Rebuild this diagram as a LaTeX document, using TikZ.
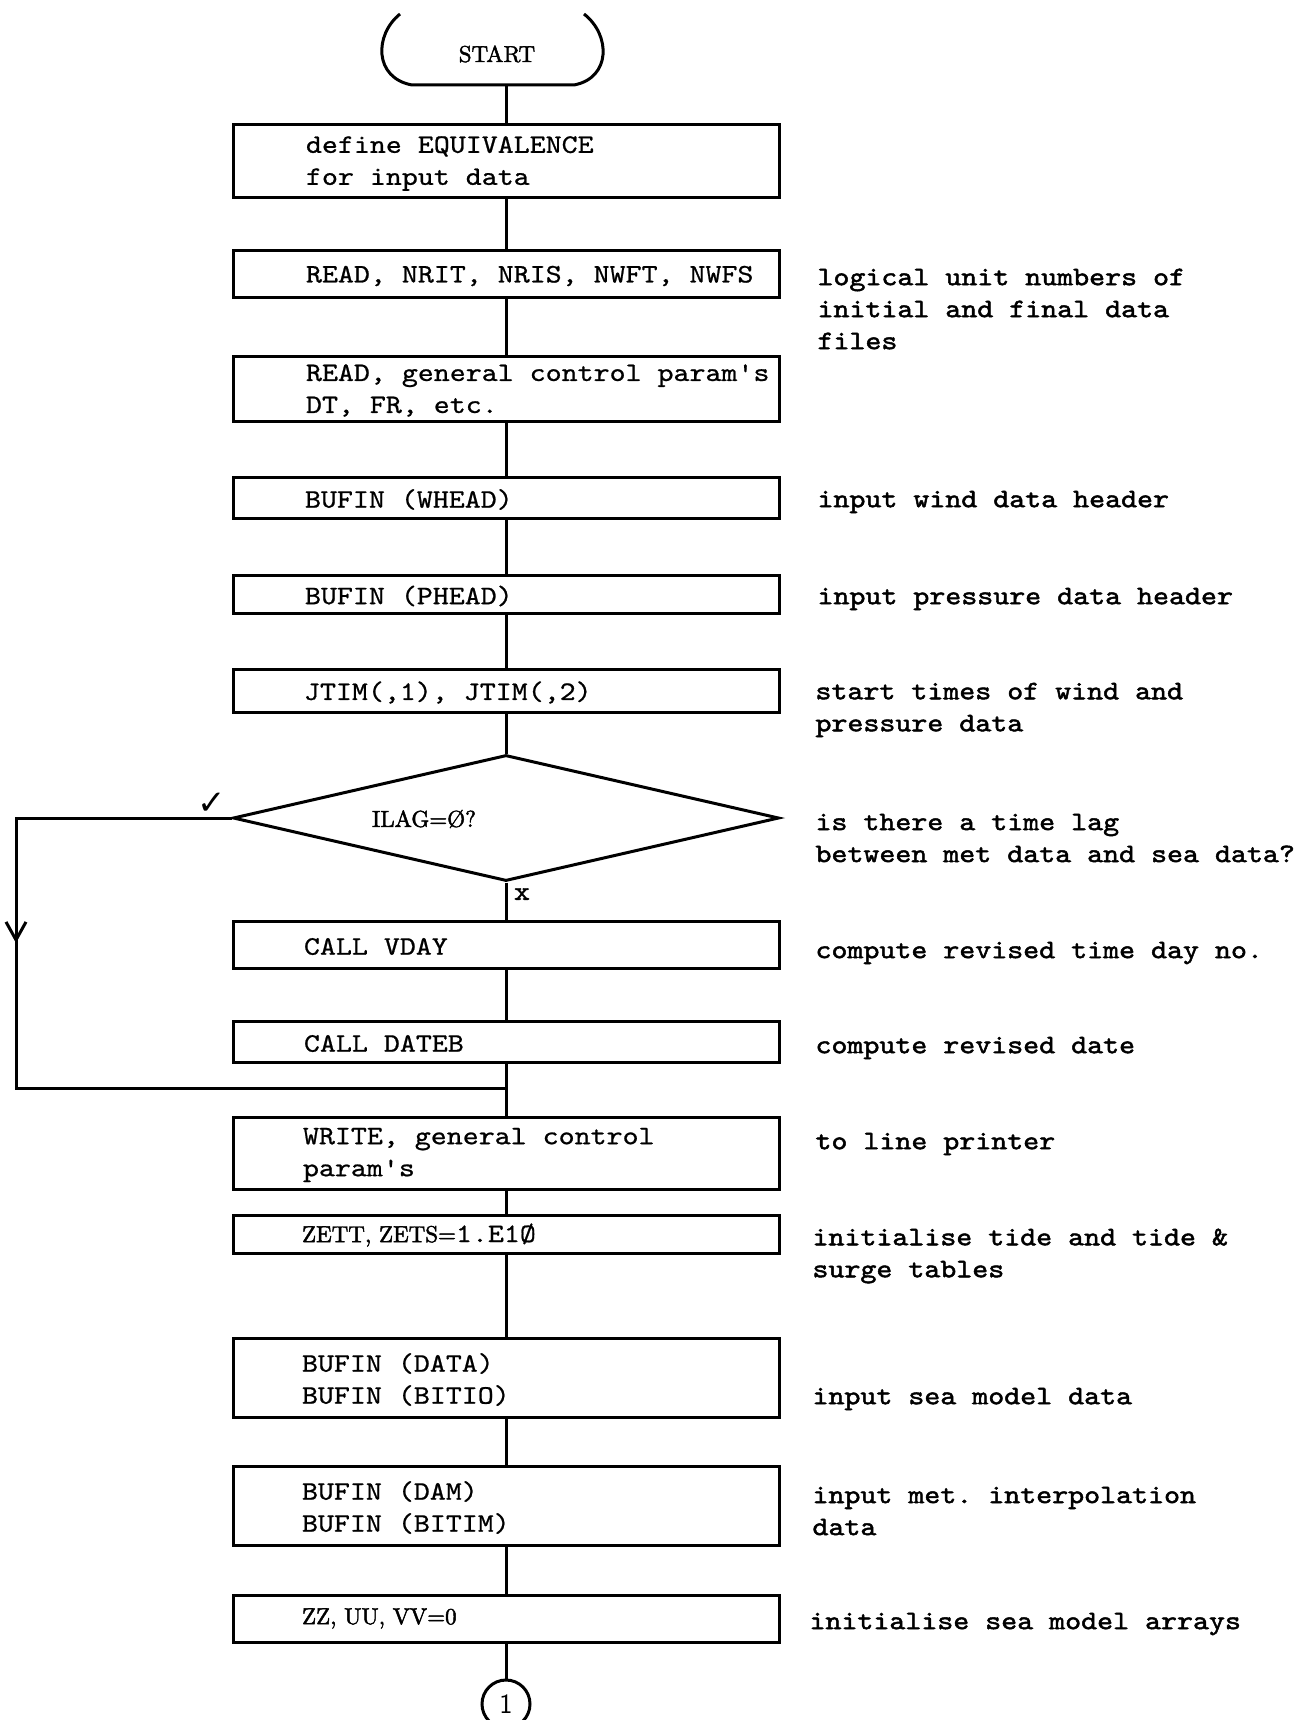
\documentclass[tikz,border=0pt]{standalone}
\usepackage{fontspec}
\newfontfamily\tw[FakeStretch=1.14,FakeBold=0.8]{lmmono10-regular.otf}
\newfontfamily\twb[FakeStretch=1.14,FakeBold=1.8]{lmmono10-regular.otf}
\newfontfamily\romf[FakeBold=2]{lmroman10-regular.otf}
\newfontfamily\chkfont{DejaVu Sans}
\usetikzlibrary{shapes.geometric,arrows.meta}
\frenchspacing
\begin{document}
\begin{tikzpicture}[x=1pt,y=-1pt,line width=3pt,
  box/.style={draw,rectangle,inner sep=0pt,minimum width=546pt},
  btext/.style={anchor=west,inner sep=0pt,align=left,font=\tw\fontsize{26.7}{32}\selectfont\frenchspacing},
  rtext/.style={anchor=west,inner sep=0pt,align=left,font=\twb\fontsize{26.7}{32}\selectfont\frenchspacing},
  rom/.style={inner sep=0pt,font=\romf\fontsize{23}{28}\selectfont}]
\useasboundingbox (0,0) rectangle (1304,1720);

% start terminal
\node[rom] (start) at (497,54) {START};
\draw (400,14) .. controls (374,35) and (374,78) .. (412,85) -- (574,85) .. controls (611,78) and (611,35) .. (584,14);
\coordinate (sb) at (506,85);

% boxes
\node[box,minimum height=73pt] (b1) at (506,161.5) {};
\node[btext] (t1) at ([xshift=73pt,yshift=-2pt]b1.west) {define EQUIVALENCE\\for input data};
\node[box,minimum height=46pt] (b2) at (506,274) {};
\node[btext] (t2) at ([xshift=73pt,yshift=-2pt]b2.west) {READ, NRIT, NRIS, NWFT, NWFS};
\node[box,minimum height=65pt] (b3) at (506,388.5) {};
\node[btext] (t3) at ([xshift=73pt,yshift=-2pt]b3.west) {READ, general control param's\\DT, FR, etc.};
\node[box,minimum height=41pt] (b4) at (506,497.5) {};
\node[btext] (t4) at ([xshift=72pt,yshift=-2pt]b4.west) {BUFIN (WHEAD)};
\node[box,minimum height=38pt] (b5) at (506,594) {};
\node[btext] (t5) at ([xshift=72pt,yshift=-2pt]b5.west) {BUFIN (PHEAD)};
\node[box,minimum height=43pt] (b6) at (506,690.5) {};
\node[btext] (t6) at ([xshift=71pt,yshift=-2pt]b6.west) {JTIM(,1), JTIM(,2)};

\node[draw,diamond,inner sep=0pt,minimum width=546pt,minimum height=126pt] (dia) at (506,818) {};
\node[rom] (dt) at (424,819) {ILAG=Ø?};

\node[box,minimum height=47pt] (b7) at (506,944.5) {};
\node[btext] (t7) at ([xshift=71pt,yshift=-2pt]b7.west) {CALL VDAY};
\node[box,minimum height=41pt] (b8) at (506,1041.5) {};
\node[btext] (t8) at ([xshift=71pt,yshift=-2pt]b8.west) {CALL DATEB};
\node[box,minimum height=72pt] (b9) at (506,1153) {};
\node[btext] (t9) at ([xshift=70pt,yshift=-2pt]b9.west) {WRITE, general control\\param's};
\node[box,minimum height=38pt] (b10) at (506,1234) {};
\node[btext] (t10) at ([xshift=69pt,yshift=-1pt]b10.west) {{\romf\fontsize{23}{28}\selectfont ZETT, ZETS=}1.E1Ø};
\node[box,minimum height=79pt] (b11) at (506,1377.5) {};
\node[btext] (t11) at ([xshift=69pt,yshift=-2pt]b11.west) {BUFIN (DATA)\\BUFIN (BITIO)};
\node[box,minimum height=79pt] (b12) at (506,1505.5) {};
\node[btext] (t12) at ([xshift=69pt,yshift=-2pt]b12.west) {BUFIN (DAM)\\BUFIN (BITIM)};
\node[box,minimum height=47pt] (b13) at (506,1618.5) {};
\node[rom,anchor=west] (t13) at ([xshift=69pt]b13.west) {ZZ, UU, VV=0};

\node[draw,circle,inner sep=0pt,minimum size=48pt,font=\fontsize{28}{30}\selectfont\sffamily] (c1) at (506,1704) {1};

% connectors
\draw (sb) -- (b1.north);
\draw (b1.south) -- (b2.north);
\draw (b2.south) -- (b3.north);
\draw (b3.south) -- (b4.north);
\draw (b4.south) -- (b5.north);
\draw (b5.south) -- (b6.north);
\draw (b6.south) -- (dia.north);
\draw (dia.south) -- (b7.north);
\draw (b7.south) -- (b8.north);
\draw (b8.south) -- (b9.north);
\draw (b9.south) -- (b10.north);
\draw (b10.south) -- (b11.north);
\draw (b11.south) -- (b12.north);
\draw (b12.south) -- (b13.north);
\draw (b13.south) -- (c1.north);

% yes-branch loop
\coordinate (l1) at (16,818);
\coordinate (la) at (16,943);
\coordinate (l2) at (16,1088);
\coordinate (l3) at (506,1088);
\draw (dia.west) -- (l1) -- (l2) -- (l3);
\draw[-{Straight Barb[length=18pt,width=20pt]}] (l1) -- (la);
\node[inner sep=0pt,font=\chkfont\fontsize{34}{36}\selectfont] (chk) at (212,804) {✓};
\node[inner sep=0pt,font=\twb\fontsize{26.7}{32}\selectfont] (xm) at (522,894) {x};

% comments
\node[rtext] (r1) at (816,309) {logical unit numbers of\\initial and final data\\files};
\node[rtext] (r2) at (816,502) {input wind data header};
\node[rtext] (r3) at (816,599) {input pressure data header};
\node[rtext] (r4) at (814,710) {start times of wind and\\pressure data};
\node[rtext] (r5) at (814,838) {is there a time lag\\between met data and sea data?};
\node[rtext] (r6) at (814,953) {compute revised time day no.};
\node[rtext] (r7) at (814,1048) {compute revised date};
\node[rtext] (r8) at (814,1144) {to line printer};
\node[rtext] (r9) at (811,1256) {initialise tide and tide \&\\surge tables};
\node[rtext] (r10) at (811,1399) {input sea model data};
\node[rtext] (r11) at (811,1511) {input met. interpolation\\data};
\node[rtext] (r12) at (808,1624) {initialise sea model arrays};
\end{tikzpicture}
\end{document}
